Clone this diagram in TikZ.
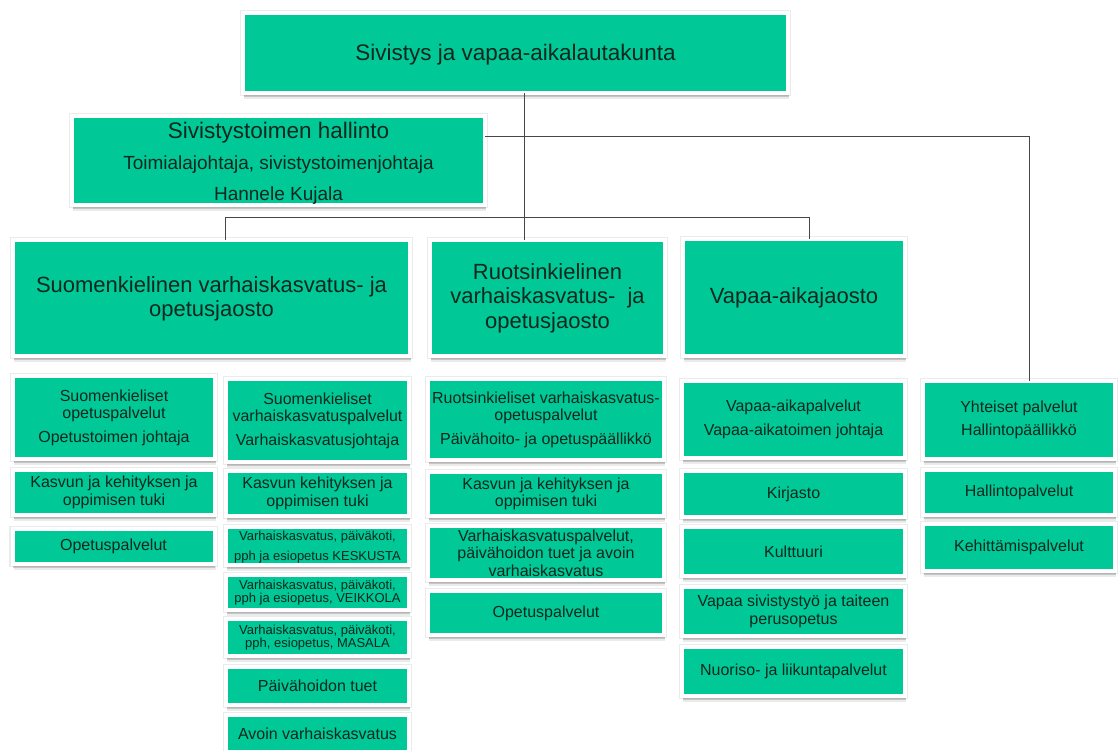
\documentclass[tikz,border=0pt]{standalone}
\usepackage{fontspec}
\setmainfont{Liberation Sans}
\usetikzlibrary{shadows}
\definecolor{boxgreen}{RGB}{0,201,151}
\definecolor{txtc}{RGB}{12,40,30}
\definecolor{linec}{RGB}{70,70,70}
\tikzset{
  card/.style={rectangle, fill=boxgreen, draw=white, line width=4pt, text=txtc,
    align=center, inner sep=0pt, outer sep=0pt,
    general shadow={fill=black, opacity=.08, shadow xshift=1pt, shadow yshift=-6pt},
    general shadow={fill=black, opacity=.16, shadow xshift=.5pt, shadow yshift=-4pt},
    preaction={draw=black, draw opacity=.08, line width=6.5pt}},
  ftitle/.style={font=\fontsize{22.5}{26}\selectfont},
  fbig/.style={font=\fontsize{22}{24.5}\selectfont},
  fmid/.style={font=\fontsize{16}{17.5}\selectfont},
  fsmall/.style={font=\fontsize{13}{13.5}\selectfont},
  conn/.style={draw=linec, line width=1pt},
}
\begin{document}
\begin{tikzpicture}[x=1pt, y=-1pt]
\useasboundingbox (0,0) rectangle (1118,751);
\fill[white] (0,0) rectangle (1118,751);

% connector reference points
\coordinate (spine) at (524,0);
\coordinate (rline) at (1029,137);
\coordinate (b1) at (225,218);
\coordinate (b2) at (809,218);

% top level
\node[card, ftitle, minimum width=545, minimum height=80] (top) at (515.5,53) {\rule{0pt}{19pt}Sivistys ja vapaa-aikalautakunta};
\node[card, font=\fontsize{19}{31}\selectfont, minimum width=413, minimum height=89] (hall) at (278.5,160.5)
  {{\fontsize{22.5}{26}\selectfont\rule{0pt}{22pt}Sivistystoimen hallinto}\\Toimialajohtaja, sivistystoimenjohtaja\\Hannele Kujala};

% second level
\node[card, fbig, minimum width=397, minimum height=116] (suom) at (211.5,298)
  {\rule{0pt}{18pt}Suomenkielinen varhaiskasvatus- ja\\opetusjaosto};
\node[card, fbig, minimum width=235, minimum height=116] (ruots) at (547.5,298)
  {Ruotsinkielinen\\varhaiskasvatus-\ \ ja\\opetusjaosto};
\node[card, fbig, minimum width=222, minimum height=117] (vapaa) at (794,297.5)
  {Vapaa-aikajaosto};

% column 1
\node[card, fmid, minimum width=202, minimum height=83] (c1a) at (114,417.5)
  {Suomenkieliset\\opetuspalvelut\\[6pt]Opetustoimen johtaja};
\node[card, fmid, minimum width=202, minimum height=45] (c1b) at (114,492.5)
  {Kasvun ja kehityksen ja\\oppimisen tuki};
\node[card, fmid, minimum width=202, minimum height=35] (c1c) at (113.5,546.5)
  {Opetuspalvelut};

% column 2
\node[card, fmid, minimum width=183, minimum height=83] (c2a) at (317.5,420.5)
  {Suomenkieliset\\varhaiskasvatuspalvelut\\[6pt]Varhaiskasvatusjohtaja};
\node[card, fmid, minimum width=183, minimum height=45] (c2b) at (317.5,493.5)
  {Kasvun kehityksen ja\\oppimisen tuki};
\node[card, fsmall, minimum width=183, minimum height=38] (c2c) at (317.5,546)
  {\rule{0pt}{12pt}Varhaiskasvatus, päiväkoti,\\[6pt]pph ja esiopetus KESKUSTA};
\node[card, fsmall, minimum width=183, minimum height=35] (c2d) at (317.5,592.5)
  {Varhaiskasvatus, päiväkoti,\\pph ja esiopetus, VEIKKOLA};
\node[card, fsmall, minimum width=183, minimum height=37] (c2e) at (317.5,637.5)
  {Varhaiskasvatus, päiväkoti,\\pph, esiopetus, MASALA};
\node[card, fmid, minimum width=183, minimum height=38] (c2f) at (317.5,686)
  {Päivähoidon tuet};
\node[card, fmid, minimum width=183, minimum height=37] (c2g) at (317.5,733.5)
  {Avoin varhaiskasvatus};

% column 3
\node[card, fmid, minimum width=236, minimum height=81] (c3a) at (546,419.5)
  {Ruotsinkieliset varhaiskasvatus-\\opetuspalvelut\\[6pt]Päivähoito- ja opetuspäällikkö};
\node[card, fmid, minimum width=236, minimum height=44] (c3b) at (546,494)
  {Kasvun ja kehityksen ja\\oppimisen tuki};
\node[card, fmid, minimum width=236, minimum height=54] (c3c) at (546,553)
  {Varhaiskasvatuspalvelut,\\päivähoidon tuet ja avoin\\varhaiskasvatus};
\node[card, fmid, minimum width=236, minimum height=44] (c3d) at (546,613)
  {Opetuspalvelut};

% column 4
\node[card, fmid, minimum width=223, minimum height=77] (c4a) at (793.5,419.5)
  {Vapaa-aikapalvelut\\[7pt]Vapaa-aikatoimen johtaja};
\node[card, fmid, minimum width=223, minimum height=46] (c4b) at (793.5,494)
  {Kirjasto};
\node[card, fmid, minimum width=223, minimum height=49] (c4c) at (793.5,551.5)
  {Kulttuuri};
\node[card, fmid, minimum width=223, minimum height=49] (c4d) at (793.5,611.5)
  {Vapaa sivistystyö ja taiteen\\perusopetus};
\node[card, fmid, minimum width=223, minimum height=49] (c4e) at (793.5,671.5)
  {Nuoriso- ja liikuntapalvelut};

% column 5
\node[card, fmid, minimum width=192, minimum height=78] (c5a) at (1019,420)
  {Yhteiset palvelut\\[6pt]Hallintopäällikkö};
\node[card, fmid, minimum width=192, minimum height=45] (c5b) at (1019,492.5)
  {Hallintopalvelut};
\node[card, fmid, minimum width=192, minimum height=47] (c5c) at (1019,547.5)
  {Kehittämispalvelut};

% connectors
\draw[conn] (top.south -| spine) -- (ruots.north -| spine);
\draw[conn] (rline -| hall.east) -- (rline) -- (c5a.north -| rline);
\draw[conn] (suom.north -| b1) -- (b1) -- (b2) -- (vapaa.north -| b2);
\end{tikzpicture}
\end{document}
